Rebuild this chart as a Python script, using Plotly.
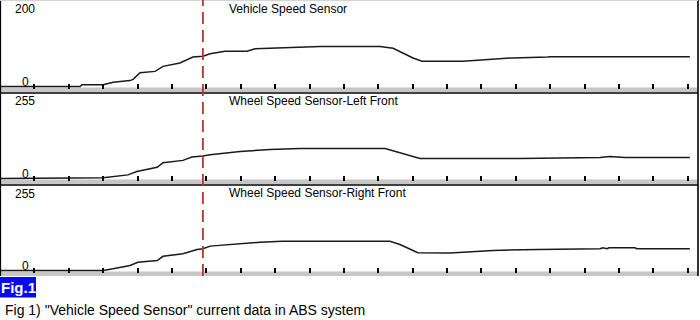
import plotly.graph_objects as go

# ---------------- data ----------------
# time axis (s); tick marks every 1 s
tick_vals = list(range(1, 21))
cursor_t = 5.90

# Vehicle Speed Sensor (0..200)
vss_t = [0, 2.33, 2.38, 3.00, 3.29, 3.78, 3.87, 4.07, 4.51, 4.74, 5.23, 5.61, 5.90, 6.11,
         6.54, 7.18, 7.42, 7.94, 9.16, 9.31, 11.05, 11.43, 12.01, 12.27, 13.46, 14.25,
         14.89, 15.93, 15.99, 20.06]
vss_v = [0, 0, 4, 4, 10, 14, 17, 33, 36, 48, 56, 70, 72, 78, 84, 84, 90, 91, 93, 95, 95,
         91, 68, 60, 60, 64, 68, 70, 71, 71]

# Wheel Speed Sensor-Left Front (0..255)
lf_t = [0, 3.00, 3.72, 3.98, 4.57, 4.74, 5.32, 5.58, 5.90, 6.11, 6.78, 6.98, 7.85, 8.72,
        11.20, 12.21, 15.12, 17.45, 17.74, 18.17, 20.06]
lf_v = [0, 2, 11, 21, 34, 48, 55, 65, 68, 72, 80, 82, 88, 91, 91, 61, 61, 64, 67, 64, 64]

# Wheel Speed Sensor-Right Front (0..255)
rf_t = [0, 3.00, 3.29, 3.78, 4.01, 4.57, 4.74, 5.32, 5.73, 5.90, 6.11, 6.69, 6.98, 7.56,
        8.20, 11.34, 11.63, 12.15, 13.09, 13.46, 14.34, 15.64, 17.45, 17.53, 17.65, 17.71,
        18.46, 18.52, 20.06]
rf_v = [0, 0, 5, 15, 25, 30, 43, 51, 64, 66, 74, 79, 83, 86, 89, 89, 79, 54, 53, 55, 61,
        64, 66, 69, 66, 69, 69, 66, 66]

titles = ["Vehicle Speed Sensor", "Wheel Speed Sensor-Left Front", "Wheel Speed Sensor-Right Front"]
maxima = [200, 255, 255]
series = [(vss_t, vss_v), (lf_t, lf_v), (rf_t, rf_v)]
caption = 'Fig 1) "Vehicle Speed Sensor" current data in ABS system'
fig_label = "Fig.1"

# ---------------- layout helpers ----------------
W, H = 700, 320
PX_PER_T = 34.39
FONT = "Liberation Sans, Arial, sans-serif"


def xp(p):
    return p / W


def yp(p):
    return 1 - p / H


baselines = [86.5, 178.5, 270.5]
span = 84.0

fig = go.Figure()
layout = dict(
    width=W, height=H, margin=dict(l=0, r=0, t=0, b=0),
    paper_bgcolor="white", plot_bgcolor="rgba(0,0,0,0)",
    showlegend=False, font=dict(family=FONT, size=12, color="black"),
)

shapes = []
annotations = []

for i, ((tx, vy), mx, title, B) in enumerate(zip(series, maxima, titles, baselines)):
    n = "" if i == 0 else str(i + 1)
    fig.add_trace(go.Scatter(x=tx, y=vy, mode="lines",
                             line=dict(color="#1a1a1a", width=1.5),
                             xaxis="x" + n, yaxis="y" + n, hoverinfo="skip"))
    layout["xaxis" + n] = dict(domain=[0, 1], range=[0, W / PX_PER_T], anchor="y" + n,
                               showgrid=False, zeroline=False, showticklabels=False,
                               showline=False, ticks="inside", ticklen=5, tickwidth=1.5,
                               tickcolor="black", tickvals=tick_vals, fixedrange=True)
    layout["yaxis" + n] = dict(domain=[yp(B + 2), yp(B - span)],
                               range=[-2 * mx / span, mx], anchor="x" + n,
                               showgrid=False, zeroline=False, showticklabels=False,
                               showline=False, ticks="", fixedrange=True)
    # gray strip under each trace
    shapes.append(dict(type="rect", xref="paper", yref="paper", layer="below",
                       x0=xp(0), x1=xp(697.5), y0=yp(B + 1), y1=yp(B + 5.5),
                       fillcolor="#c6c6c6", line=dict(width=0)))
    # separator line
    if i < 2:
        shapes.append(dict(type="line", xref="paper", yref="paper",
                           x0=xp(0), x1=xp(698), y0=yp(B + 6.5), y1=yp(B + 6.5),
                           line=dict(color="black", width=1.3)))
    # labels
    annotations.append(dict(text=str(mx), x=xp(12.5), y=yp(B - 77), xref="paper", yref="paper",
                            xanchor="left", yanchor="middle", showarrow=False,
                            font=dict(size=12)))
    annotations.append(dict(text="0", x=xp(19.5), y=yp(B - 4.5), xref="paper", yref="paper",
                            xanchor="left", yanchor="middle", showarrow=False,
                            font=dict(size=12)))
    annotations.append(dict(text=title, x=xp(227), y=yp(B - 77.5), xref="paper", yref="paper",
                            xanchor="left", yanchor="middle", showarrow=False,
                            font=dict(size=12)))

# borders
shapes.append(dict(type="line", xref="paper", yref="paper", x0=xp(0.5), x1=xp(0.5),
                   y0=yp(276), y1=yp(0), line=dict(color="black", width=1.2)))
shapes.append(dict(type="line", xref="paper", yref="paper", x0=xp(698), x1=xp(698),
                   y0=yp(276), y1=yp(0), line=dict(color="black", width=1.6)))
shapes.append(dict(type="line", xref="paper", yref="paper", x0=xp(0), x1=xp(698),
                   y0=yp(0.5), y1=yp(0.5), line=dict(color="#d4d4d4", width=1)))
# cursor
shapes.append(dict(type="line", xref="x", yref="paper", x0=cursor_t, x1=cursor_t,
                   y0=yp(276), y1=yp(0), line=dict(color="#b83434", width=1.8, dash="12px,6px")))
# Fig.1 box
shapes.append(dict(type="rect", xref="paper", yref="paper", x0=xp(0), x1=xp(36),
                   y0=yp(297.5), y1=yp(277), fillcolor="#0a0af0", line=dict(width=0)))
annotations.append(dict(text="<b>" + fig_label + "</b>", x=xp(18), y=yp(287.5), xref="paper",
                        yref="paper", xanchor="center", yanchor="middle", showarrow=False,
                        font=dict(size=15, color="white")))
annotations.append(dict(text=caption, x=xp(3), y=yp(309.5), xref="paper", yref="paper",
                        xanchor="left", yanchor="middle", showarrow=False,
                        font=dict(size=14)))

layout["shapes"] = shapes
layout["annotations"] = annotations
fig.update_layout(**layout)
fig.write_html("out.html")
